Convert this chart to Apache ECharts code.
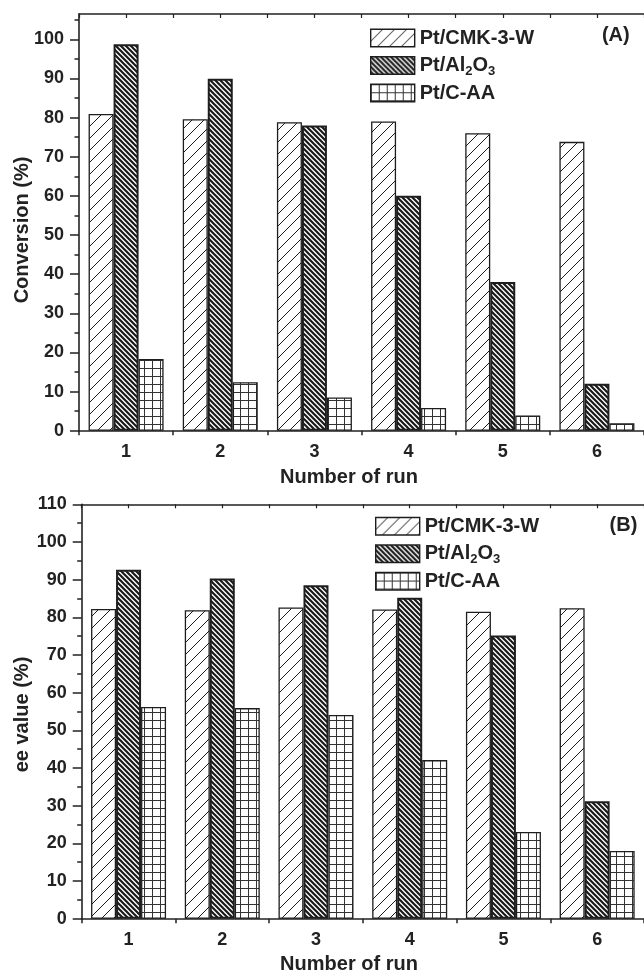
<!DOCTYPE html>
<html><head><meta charset="utf-8">
<script src="https://cdn.jsdelivr.net/npm/echarts@6/dist/echarts.min.js"></script>
<style>html,body{margin:0;padding:0;background:#fff}#c{width:644px;height:975px}</style>
</head><body><div id="c"></div>
<script>
const runs = ['1', '2', '3', '4', '5', '6'];
const seriesNames = ['Pt/CMK-3-W', 'Pt/Al2O3', 'Pt/C-AA'];
const convCMK = [80.9, 79.6, 78.8, 79.0, 76.0, 73.8];
const convAl = [98.7, 89.9, 78.0, 60.0, 38.0, 12.0];
const convCAA = [18.3, 12.4, 8.5, 5.8, 3.9, 1.9];
const eeCMK = [82.2, 81.9, 82.6, 82.1, 81.5, 82.4];
const eeAl = [92.6, 90.3, 88.5, 85.2, 75.2, 31.2];
const eeCAA = [56.2, 55.9, 54.1, 42.1, 23.0, 18.0];
const yMajorA = [0, 10, 20, 30, 40, 50, 60, 70, 80, 90, 100];
const yMinorA = [5, 15, 25, 35, 45, 55, 65, 75, 85, 95, 105];
const yMajorB = [0, 10, 20, 30, 40, 50, 60, 70, 80, 90, 100, 110];
const yMinorB = [5, 15, 25, 35, 45, 55, 65, 75, 85, 95, 105];

const FONT = '"Liberation Sans", Arial, Helvetica, sans-serif';
const INK = '#222';

function pattern(kind) {
  const c = document.createElement('canvas');
  let s = kind === 'fwd' ? 12 : kind === 'back' ? 5 : 8;
  c.width = s; c.height = s;
  const g = c.getContext('2d');
  g.fillStyle = '#fff'; g.fillRect(0, 0, s, s);
  g.strokeStyle = kind === 'grid' ? '#333' : '#1a1a1a';
  if (kind === 'fwd') {
    g.lineWidth = 1;
    g.beginPath();
    g.moveTo(-1, s + 1); g.lineTo(s + 1, -1);
    g.moveTo(-1, 1); g.lineTo(1, -1);
    g.moveTo(s - 1, s + 1); g.lineTo(s + 1, s - 1);
    g.stroke();
  } else if (kind === 'back') {
    g.lineWidth = 2.2;
    g.beginPath();
    g.moveTo(-1, -1); g.lineTo(s + 1, s + 1);
    g.moveTo(-1, s - 1); g.lineTo(1, s + 1);
    g.moveTo(s - 1, -1); g.lineTo(s + 1, 1);
    g.stroke();
  } else {
    g.lineWidth = 1;
    g.beginPath();
    g.moveTo(0.5, 0); g.lineTo(0.5, s);
    g.moveTo(0, 0.5); g.lineTo(s, 0.5);
    g.stroke();
  }
  return { image: c, repeat: 'repeat' };
}
const pats = [pattern('fwd'), pattern('back'), pattern('grid')];
const borders = [1.3, 2, 1.3];

function xAxes(gi) {
  return [
    { gridIndex: gi, type: 'category', data: runs, position: 'bottom', boundaryGap: true,
      axisLine: { onZero: false, lineStyle: { color: INK, width: 1.6 } },
      axisTick: { alignWithLabel: true, length: 9, lineStyle: { color: INK, width: 1.5 } },
      axisLabel: { margin: 12, fontSize: 18, fontWeight: 'bold', color: INK, fontFamily: FONT },
      splitLine: { show: false } },
    { gridIndex: gi, type: 'value', min: 0, max: 6, interval: 1, position: 'bottom',
      axisLine: { show: false, onZero: false },
      axisTick: { show: true, length: 4.5, lineStyle: { color: INK, width: 1.5 } },
      axisLabel: { show: false }, splitLine: { show: false } },
    { gridIndex: gi, type: 'value', min: 0, max: 12, interval: 1, position: 'top',
      axisLine: { show: true, onZero: false, lineStyle: { color: INK, width: 1.6 } },
      axisTick: { show: true, inside: true, length: 4, lineStyle: { color: INK, width: 1.2 } },
      axisLabel: { show: false }, splitLine: { show: false } }
  ];
}
function yAxes(gi, max, major, minor) {
  return [
    { gridIndex: gi, type: 'value', min: 0, max: max, position: 'left',
      axisLine: { show: true, onZero: false, lineStyle: { color: INK, width: 1.6 } },
      axisTick: { show: true, length: 9, customValues: major, lineStyle: { color: INK, width: 1.5 } },
      axisLabel: { customValues: major, margin: 15, fontSize: 18, fontWeight: 'bold', color: INK, fontFamily: FONT },
      splitLine: { show: false } },
    { gridIndex: gi, type: 'value', min: 0, max: max, position: 'left',
      axisLine: { show: false, onZero: false },
      axisTick: { show: true, length: 4.5, customValues: minor, lineStyle: { color: INK, width: 1.5 } },
      axisLabel: { show: false }, splitLine: { show: false } }
  ];
}
function barSeries(gi, datas) {
  return datas.map((d, i) => ({
    name: seriesNames[i], type: 'bar', xAxisIndex: gi * 3, yAxisIndex: gi * 2,
    data: d, barWidth: 25, barGap: '0%',
    itemStyle: { color: pats[i], borderColor: '#1e1e1e', borderWidth: borders[i] }
  }));
}
function legendAt(left, top) {
  return {
    orient: 'vertical', left: left, top: top, data: seriesNames, icon: 'rect',
    itemWidth: 44, itemHeight: 17.5, itemGap: 4, selectedMode: false,
    itemStyle: { borderColor: '#1e1e1e', borderWidth: 1.4 },
    formatter: n => n === 'Pt/Al2O3' ? 'Pt/Al{s|2}O{s|3}' : n,
    textStyle: { fontSize: 20, fontWeight: 'bold', color: INK, fontFamily: FONT, lineHeight: 22,
      rich: { s: { fontSize: 13, fontWeight: 'bold', color: INK, fontFamily: FONT, lineHeight: 22, padding: [12, 0, 0, 0] } } }
  };
}
function txt(text, x, y, rot) {
  return { type: 'text', x: x, y: y, rotation: rot || 0,
    style: { text: text, fill: INK, font: 'bold 20px ' + FONT, align: 'center', verticalAlign: 'middle' } };
}

const chart = echarts.init(document.getElementById('c'), null, { renderer: 'canvas' });
chart.setOption({
  animation: false,
  backgroundColor: '#fff',
  grid: [
    { left: 79, top: 14, right: -1, bottom: 544.3, containLabel: false },
    { left: 81.7, top: 504.3, right: -1, bottom: 56.3, containLabel: false }
  ],
  xAxis: [...xAxes(0), ...xAxes(1)],
  yAxis: [...yAxes(0, 106.46, yMajorA, yMinorA), ...yAxes(1, 110, yMajorB, yMinorB)],
  legend: [legendAt(365, 22), legendAt(370, 510.3)],
  series: [...barSeries(0, [convCMK, convAl, convCAA]), ...barSeries(1, [eeCMK, eeAl, eeCAA])],
  graphic: [
    txt('(A)', 615.8, 35),
    txt('(B)', 623.5, 525),
    txt('Conversion (%)', 22, 230, Math.PI / 2),
    txt('ee value (%)', 22, 714.5, Math.PI / 2),
    txt('Number of run', 349, 477.5),
    txt('Number of run', 349, 964.5)
  ]
});
</script></body></html>
